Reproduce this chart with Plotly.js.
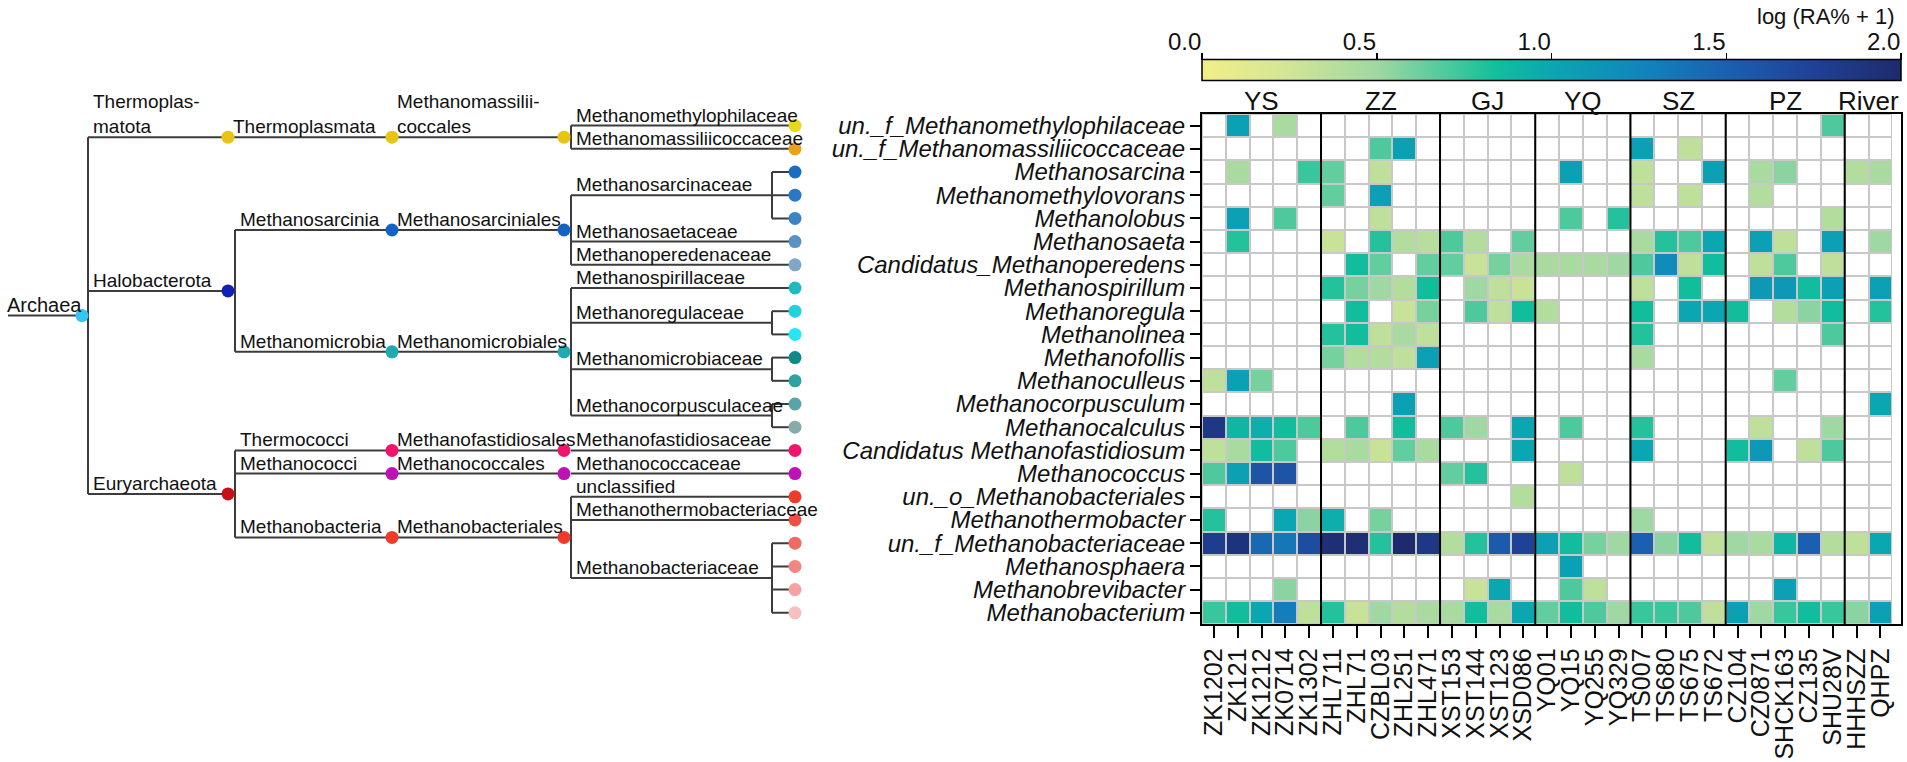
<!DOCTYPE html>
<html><head><meta charset="utf-8">
<script src="https://cdn.plot.ly/plotly-3.0.1.min.js"></script>
<style>html,body{margin:0;padding:0;background:#fff}#chart{width:1907px;height:762px}</style>
</head><body><div id="chart"></div>
<script>
const samples = ['ZK1202','ZK121','ZK1212','ZK0714','ZK1302','ZHL711','ZHL71','CZBL03','ZHL251','ZHL471','XST153','XST144','XST123','XSD086','YQ01','YQ15','YQ255','YQ329','TS007','TS680','TS675','TS672','CZ104','CZ0871','SHCK163','CZ135','SHU28V','HHHSZZ','QHPZ'];
const groups = ['YS','ZZ','GJ','YQ','SZ','PZ','River'];
const groupSizes = [5,5,4,4,4,5,2];
const genera = ['un._f_Methanomethylophilaceae','un._f_Methanomassiliicoccaceae','Methanosarcina','Methanomethylovorans','Methanolobus','Methanosaeta','Candidatus_Methanoperedens','Methanospirillum','Methanoregula','Methanolinea','Methanofollis','Methanoculleus','Methanocorpusculum','Methanocalculus','Candidatus Methanofastidiosum','Methanococcus','un._o_Methanobacteriales','Methanothermobacter','un._f_Methanobacteriaceae','Methanosphaera','Methanobrevibacter','Methanobacterium'];
const phylum = ['Thermoplasmatota','Thermoplasmatota','Halobacterota','Halobacterota','Halobacterota','Halobacterota','Halobacterota','Halobacterota','Halobacterota','Halobacterota','Halobacterota','Halobacterota','Halobacterota','Halobacterota','Euryarchaeota','Euryarchaeota','Euryarchaeota','Euryarchaeota','Euryarchaeota','Euryarchaeota','Euryarchaeota','Euryarchaeota'];
const klass = ['Thermoplasmata','Thermoplasmata','Methanosarcinia','Methanosarcinia','Methanosarcinia','Methanosarcinia','Methanosarcinia','Methanomicrobia','Methanomicrobia','Methanomicrobia','Methanomicrobia','Methanomicrobia','Methanomicrobia','Methanomicrobia','Thermococci','Methanococci','Methanobacteria','Methanobacteria','Methanobacteria','Methanobacteria','Methanobacteria','Methanobacteria'];
const order = ['Methanomassiliicoccales','Methanomassiliicoccales','Methanosarciniales','Methanosarciniales','Methanosarciniales','Methanosarciniales','Methanosarciniales','Methanomicrobiales','Methanomicrobiales','Methanomicrobiales','Methanomicrobiales','Methanomicrobiales','Methanomicrobiales','Methanomicrobiales','Methanofastidiosales','Methanococcales','Methanobacteriales','Methanobacteriales','Methanobacteriales','Methanobacteriales','Methanobacteriales','Methanobacteriales'];
const family = ['Methanomethylophilaceae','Methanomassiliicoccaceae','Methanosarcinaceae','Methanosarcinaceae','Methanosarcinaceae','Methanosaetaceae','Methanoperedenaceae','Methanospirillaceae','Methanoregulaceae','Methanoregulaceae','Methanomicrobiaceae','Methanomicrobiaceae','Methanocorpusculaceae','Methanocorpusculaceae','Methanofastidiosaceae','Methanococcaceae','unclassified','Methanothermobacteriaceae','Methanobacteriaceae','Methanobacteriaceae','Methanobacteriaceae','Methanobacteriaceae'];
const displayNames = {'Thermoplasmatota':'Thermoplas-<br>matota','Methanomassiliicoccales':'Methanomassilii-<br>coccales'};
const nodeColors = {'Archaea':'#33c6ef','Thermoplasmatota':'#e6c612','Thermoplasmata':'#e6c612','Methanomassiliicoccales':'#e6c612','Halobacterota':'#1222b0','Methanosarcinia':'#1462c6','Methanosarciniales':'#1462c6','Methanomicrobia':'#1fa9b1','Methanomicrobiales':'#1fa9b1','Euryarchaeota':'#c8101a','Thermococci':'#ef156c','Methanofastidiosales':'#ef156c','Methanococci':'#bf12b6','Methanococcales':'#bf12b6','Methanobacteria':'#ef3c2a','Methanobacteriales':'#ef3c2a'};
const leafColors = ['#e8d818','#e9a21a','#1a6cc0','#2a78c4','#3a84c4','#5a92c4','#82a6c6','#1fbac1','#22d2dc','#25e6f2','#0f8888','#30a2a2','#5aa4a8','#88aaac','#ef156c','#bf12b6','#ef3c2a','#ec5044','#ef6a64','#f28684','#f4a2a2','#f6c0c0'];
const _ = null;
const values = [
 [_,1.05,_,.45,_, _,_,_,_,_, _,_,_,_, _,_,_,_, _,_,_,_, _,_,_,_,.7, _,_],
 [_,_,_,_,_, _,_,.7,1.05,_, _,_,_,_, _,_,_,_, 1.05,_,.35,_, _,_,_,_,_, _,_],
 [_,.45,_,_,.75, .65,_,.35,_,_, _,_,_,_, _,1.05,_,_, .35,_,_,1.05, _,.45,.55,_,_, .4,.45],
 [_,_,_,_,_, .65,_,1.05,_,_, _,_,_,_, _,_,_,_, .35,_,.35,_, _,.4,_,_,_, _,_],
 [_,1.05,_,.7,_, _,_,.35,_,_, _,_,_,_, _,.7,_,.8, _,_,_,_, _,_,_,_,.4, _,_],
 [_,.8,_,_,_, .3,_,.8,.4,.38, .7,.4,_,.65, _,_,_,_, .45,.8,.7,1.0, _,1.05,.35,_,1.05, _,.5],
 [_,_,_,_,_, _,.85,.65,_,.65, .65,.3,.6,.45, .45,.45,.45,.5, .7,1.2,.35,.85, _,.35,.7,_,.35, _,_],
 [_,_,_,_,_, .8,.6,.5,.4,.85, _,.5,.35,.3, _,_,_,_, .35,_,.85,_, _,1.1,1.1,.85,1.05, _,1.05],
 [_,_,_,_,_, _,.85,_,.3,.6, _,.7,.35,.85, .4,_,_,_, .85,_,1.0,1.0, .85,_,.4,.55,.85, _,.8],
 [_,_,_,_,_, .8,.85,.35,.45,.35, _,_,_,_, _,_,_,_, .8,_,_,_, _,_,_,_,.7, _,_],
 [_,_,_,_,_, .6,.4,.4,.35,1.05, _,_,_,_, _,_,_,_, .45,_,_,_, _,_,_,_,_, _,_],
 [.35,1.05,.6,_,_, _,_,_,_,_, _,_,_,_, _,_,_,_, _,_,_,_, _,_,.65,_,_, _,_],
 [_,_,_,_,_, _,_,_,1.05,_, _,_,_,_, _,_,_,_, _,_,_,_, _,_,_,_,_, _,1.0],
 [1.85,.9,.95,.85,.7, _,.7,_,.85,_, .7,.5,_,1.0, _,.7,_,_, .8,_,_,_, _,.35,_,_,.5, _,_],
 [.35,.45,.85,.7,_, .4,.45,.3,.65,.45, _,_,_,1.0, _,_,_,_, 1.0,_,_,_, .85,1.1,_,.35,.7, _,_],
 [.7,1.05,1.6,1.6,_, _,_,_,_,_, .65,.8,_,_, _,.35,_,_, _,_,_,_, _,_,_,_,_, _,_],
 [_,_,_,_,_, _,_,_,_,_, _,_,_,.4, _,_,_,_, _,_,_,_, _,_,_,_,_, _,_],
 [.8,_,_,1.0,.55, .95,_,.6,_,_, _,_,_,_, _,_,_,_, .5,_,_,_, _,_,_,_,_, _,_],
 [1.8,1.9,1.45,1.35,1.65, 1.95,1.95,.8,2.0,1.85, .4,.8,1.55,1.75, 1.05,.85,.6,.5, 1.5,.55,.85,.35, .5,.45,.9,1.5,.4, .35,1.0],
 [_,_,_,_,_, _,_,_,_,_, _,_,_,_, _,1.05,_,_, _,_,_,_, _,_,_,_,_, _,_],
 [_,_,_,.55,_, _,_,_,_,_, _,.3,1.0,_, _,.7,.35,_, _,_,_,_, _,_,1.05,_,_, _,_],
 [.75,.85,1.0,1.3,.35, .8,.3,.5,.4,.45, .45,.85,.45,1.0, .65,.85,.7,.5, .75,.75,.7,.35, 1.05,.5,.75,.85,.75, .55,1.05]
];
const colorscale = [[0,'#f2ef88'],[0.125,'#d2e596'],[0.25,'#9fd8a2'],[0.36,'#45c89c'],[0.42,'#12bf9c'],[0.5,'#0aa6b2'],[0.625,'#1186bc'],[0.75,'#1b60b0'],[0.875,'#1f4196'],[1,'#1e2a6e']];
const cbTicks = [0, 0.5, 1, 1.5, 2];
const cbTickText = ['0.0','0.5','1.0','1.5','2.0'];

const W = 1907, H = 762;
const hmL = 1202, hmR = 1901, hmT = 114, hmB = 624.4;
const cbTop = 61, cbBot = 82;
const FONT = 'Liberation Sans, Arial, sans-serif';
const xDom = [hmL/W, hmR/W], yDom = [1-hmB/H, 1-hmT/H];
const xDot = [82, 228, 392, 564], xVert = [88, 235, 398, 571];
const xFamVert = 772, xLeaf = 795, xRootStart = 8;
const treeW = 1144;

const ranks = [phylum, klass, order, family];
function buildNode(name, level, idxs){
  let children;
  if (level === 4){ children = idxs.map(i => ({leaf:true, idx:i, y:i})); }
  else {
    children = []; let cur = null;
    idxs.forEach(i => { const nm = ranks[level][i]; if (!cur || cur.name !== nm){ cur = {name:nm, idxs:[]}; children.push(cur);} cur.idxs.push(i); });
    children = children.map(c => buildNode(c.name, level+1, c.idxs));
  }
  return {name, level, children, y:(children[0].y + children[children.length-1].y)/2};
}
const root = buildNode('Archaea', 0, genera.map((g,i)=>i));

const lx=[], ly=[], dx=[], dy=[], dc=[], ann=[];
function seg(x0,y0,x1,y1){ lx.push(x0,x1,null); ly.push(y0,y1,null); }
function dot(x,y,c){ dx.push(x); dy.push(y); dc.push(c); }
function label(text,x,y,anchor,size){ ann.push({xref:'x2',yref:'y2',x:x,y:y,text:text,showarrow:false,xanchor:anchor||'left',yanchor:'bottom',font:{family:FONT,size:size||19,color:'#111'},align:'left',borderpad:0,yshift:-1}); }

seg(xRootStart, root.y, xDot[0], root.y); dot(xDot[0], root.y, nodeColors['Archaea']);
label('Archaea', xDot[0]+1, root.y, 'right', 20);
function draw(node){
  const L = node.level;
  const ch = node.children;
  if (L < 4){
    if (ch.length > 1) seg(xVert[L], ch[0].y, xVert[L], ch[ch.length-1].y);
    ch.forEach(c => {
      if (L+1 <= 3){
        const x0 = (ch.length > 1) ? xVert[L] : xDot[L];
        seg(x0, c.y, xDot[L+1], c.y); dot(xDot[L+1], c.y, nodeColors[c.name]);
        label(displayNames[c.name] || c.name, x0 + 4, c.y);
        draw(c);
      } else {
        label(c.name, xVert[L]+4, c.y);
        if (c.children.length === 1){
          const lf = c.children[0]; seg(xVert[L], lf.y, xLeaf, lf.y); dot(xLeaf, lf.y, leafColors[lf.idx]);
        } else {
          seg(xVert[L], c.y, xFamVert, c.y);
          const lc = c.children; seg(xFamVert, lc[0].y, xFamVert, lc[lc.length-1].y);
          lc.forEach(lf => { seg(xFamVert, lf.y, xLeaf, lf.y); dot(xLeaf, lf.y, leafColors[lf.idx]); });
        }
      }
    });
  }
}
draw(root);

const base = genera.map(() => samples.map(() => 0));
const traces = [
 {type:'heatmap', x:samples, y:genera, z:base, colorscale:[[0,'#c8c8c8'],[1,'#c8c8c8']], showscale:false, hoverinfo:'skip', xaxis:'x', yaxis:'y'},
 {type:'heatmap', x:samples, y:genera, z:base, colorscale:[[0,'#ffffff'],[1,'#ffffff']], showscale:false, xgap:2, ygap:2, hoverinfo:'skip', xaxis:'x', yaxis:'y'},
 {type:'heatmap', x:samples, y:genera, z:values, colorscale:colorscale, zmin:0, zmax:2, xgap:2, ygap:2, xaxis:'x', yaxis:'y',
  colorbar:{orientation:'h', lenmode:'pixels', len:hmR-hmL, thicknessmode:'pixels', thickness:cbBot-cbTop, x:(hmL+hmR)/2/W, xanchor:'center', y:1-cbBot/H, yanchor:'bottom', xpad:0, ypad:0,
   ticks:'', showticklabels:false, outlinewidth:1.5, outlinecolor:'#000'}},
 {type:'scatter', mode:'lines', x:lx, y:ly, line:{color:'#3c3c3c', width:2}, xaxis:'x2', yaxis:'y2', hoverinfo:'skip', cliponaxis:false},
 {type:'scatter', mode:'markers', x:dx, y:dy, marker:{color:dc, size:13, line:{width:0}}, xaxis:'x2', yaxis:'y2', hoverinfo:'skip', cliponaxis:false},
 {type:'scatter', mode:'markers', x:[], y:[], xaxis:'x3', yaxis:'y3', hoverinfo:'skip'}
];

const shapes = [];
let acc = 0;
groupSizes.forEach((s,gi) => {
  const mid = acc + (s-1)/2;
  ann.push({xref:'x', yref:'paper', x:mid, y:1-101/H, text:groups[gi], showarrow:false, xanchor:'center', yanchor:'middle', font:{family:FONT,size:26,color:'#111'}});
  acc += s;
  if (gi < groupSizes.length-1) shapes.push({type:'line', xref:'x', yref:'paper', x0:acc-0.5, x1:acc-0.5, y0:yDom[0], y1:yDom[1], line:{color:'#000', width:2}});
});
ann.push({xref:'paper', yref:'paper', x:(hmR-4)/W, y:1-16/H, text:'log (RA% + 1)', showarrow:false, xanchor:'right', yanchor:'middle', font:{family:FONT,size:22,color:'#111'}});

const layout = {
  width:W, height:H, margin:{l:0,r:0,t:0,b:0}, paper_bgcolor:'#fff', plot_bgcolor:'rgba(0,0,0,0)', showlegend:false,
  xaxis:{domain:xDom, type:'category', anchor:'y', tickmode:'array', tickvals:samples, ticktext:samples, tickangle:-90, ticks:'outside', ticklen:12, tickwidth:2, tickcolor:'#000', showline:true, linecolor:'#000', linewidth:2, mirror:true, showgrid:false, zeroline:false, automargin:false, tickfont:{family:FONT,size:25,color:'#111'}},
  yaxis:{domain:yDom, type:'category', anchor:'x', tickmode:'array', tickvals:genera, ticktext:genera, range:[genera.length-0.5,-0.5], ticks:'outside', ticklen:10, tickwidth:2, tickcolor:'#000', showline:true, linecolor:'#000', linewidth:2, mirror:true, showgrid:false, zeroline:false, automargin:false, tickfont:{family:FONT,size:24,color:'#111',style:'italic'}},
  xaxis2:{domain:[0,treeW/W], range:[0,treeW], anchor:'y2', visible:false, fixedrange:true},
  yaxis2:{domain:yDom, range:[genera.length-0.5,-0.5], anchor:'x2', visible:false, fixedrange:true},
  xaxis3:{domain:xDom, range:[0,2], anchor:'y3', side:'top', tickmode:'array', tickvals:cbTicks, ticktext:cbTickText, ticks:'outside', ticklen:7, tickwidth:1.5, tickcolor:'#000', ticklabelposition:'outside left', showline:false, showgrid:false, zeroline:false, automargin:false, fixedrange:true, tickfont:{family:FONT,size:24,color:'#111'}},
  yaxis3:{domain:[1-cbBot/H, 1-cbTop/H], range:[0,1], anchor:'x3', visible:false, fixedrange:true},
  annotations:ann, shapes:shapes
};
Plotly.newPlot('chart', traces, layout, {displayModeBar:false, staticPlot:true});
</script></body></html>
